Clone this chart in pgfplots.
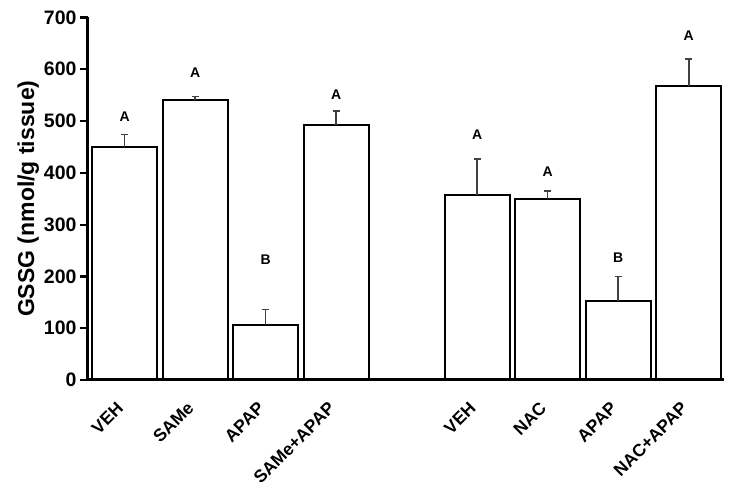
\documentclass[border=0pt]{standalone}
\usepackage{fontspec}
\setmainfont{Liberation Sans}
\usepackage{pgfplots}
\pgfplotsset{compat=1.18}
\begin{document}
\begin{tikzpicture}[x=1pt,y=1pt]
\begin{axis}[
  at={(0,0)}, anchor=south west,
  scale only axis,
  width=636pt, height=362.5pt,
  xmin=-0.52, xmax=8.5,
  ymin=0, ymax=700,
  ytick={0,100,...,700},
  xtick={0,1,2,3,5,6,7,8},
  xticklabels={VEH,SAMe,APAP,SAMe+APAP,VEH,NAC,APAP,NAC+APAP},
  axis x line*=bottom, axis y line*=left,
  axis on top,
  axis line style={line width=3pt},
  tick align=outside,
  major tick length=8pt,
  ytick style={line width=2.2pt, black},
  xtick style={draw=none},
  y tick label style={font=\fontsize{19.5}{21}\selectfont\bfseries},
  x tick label style={font=\fontsize{17.5}{19}\selectfont\bfseries,
    rotate=45, anchor=east, xshift=-12pt, yshift=-9pt},
  /pgf/number format/assume math mode=true,
  ylabel={GSSG (nmol/g tissue)},
  ylabel style={font=\fontsize{23}{25}\selectfont\bfseries, yshift=-2pt},
  clip=false,
]
\addplot[ybar, bar width=0.92, fill=white, draw=black, line width=2pt,
  error bars/.cd, y dir=plus, y explicit,
  error bar style={line width=1.5pt, black!75},
  error mark options={rotate=90, mark size=3.5pt, line width=1.5pt, black!75}]
  coordinates {
  (0,450) +- (0,24)
  (1,540) +- (0,7)
  (2,106) +- (0,30)
  (3,493) +- (0,26)
  (5,357) +- (0,70)
  (6,350) +- (0,15)
  (7,153) +- (0,47)
  (8,567) +- (0,53)
};
\begin{scope}[every node/.style={font=\fontsize{14}{16}\selectfont\bfseries}]
\node at (axis cs:0,508) {A};
\node at (axis cs:1,593) {A};
\node at (axis cs:2,232) {B};
\node at (axis cs:3,550) {A};
\node at (axis cs:5,473) {A};
\node at (axis cs:6,403) {A};
\node at (axis cs:7,237) {B};
\node at (axis cs:8,664) {A};
\end{scope}
\end{axis}
\pgfresetboundingbox
\path[use as bounding box] (-88,-109) rectangle (645,380);
\end{tikzpicture}
\end{document}
